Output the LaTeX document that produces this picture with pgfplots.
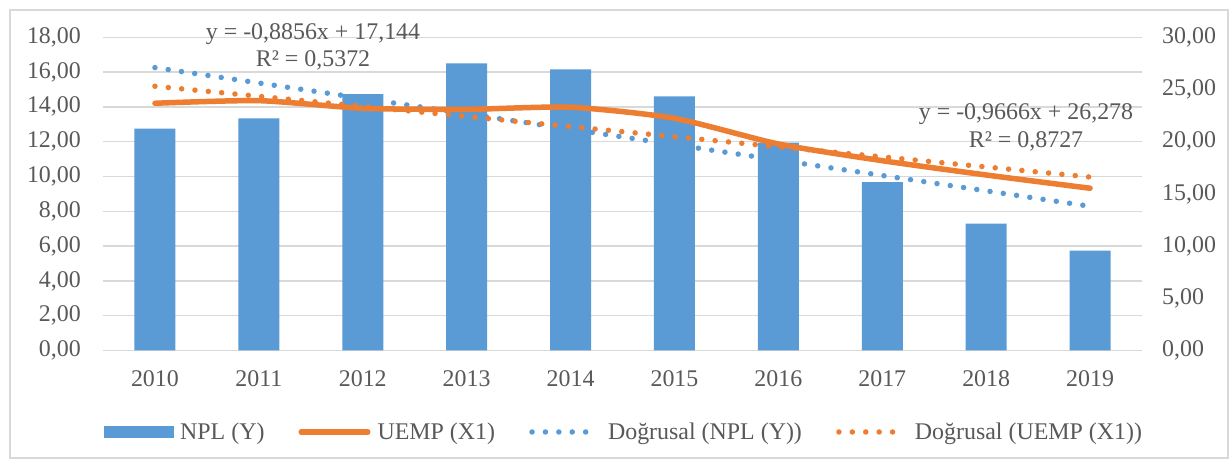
\documentclass[border=0pt]{standalone}
\usepackage{fontspec}
\setmainfont{Liberation Serif}
\usepackage{pgfplots}
\usepackage{pgfplotstable}
\pgfplotsset{compat=1.18}
\definecolor{npl}{HTML}{5B9BD5}
\definecolor{uemp}{HTML}{ED7D31}
\definecolor{txt}{HTML}{595959}
\definecolor{grd}{HTML}{D9D9D9}

\pgfplotstableread{
x npl uemp
1 12.75 23.68
2 13.34 23.93
3 14.74 23.20
4 16.50 23.10
5 16.16 23.30
6 14.61 22.24
7 11.95 19.78
8 9.67 18.18
9 7.29 16.81
10 5.74 15.54
}\data

\newcommand{\bigf}{\fontsize{24}{28}\selectfont}

\begin{document}
\begin{tikzpicture}[x=1bp,y=1bp]
\path[use as bounding box] (0,0) rectangle (1232,461);
\fill[white] (0,0) rectangle (1232,461);
\draw[grd, line width=1.5bp] (10,3) rectangle (1228,451);

\pgfplotsset{
 every axis/.append style={
  scale only axis, width=1039bp, height=313.2bp,
  at={(103bp,110.5bp)}, anchor=south west,
  xmin=0.5, xmax=10.5, ymin=0,
  tick style={draw=none}, major tick length=0pt,
  axis line style={draw=none},
  ticklabel style={font=\bigf, text=txt, inner sep=0pt},
  yticklabel={\pgfmathprintnumber[fixed,fixed zerofill,precision=2,use comma,assume math mode=true]{\tick}},
 }
}

\begin{axis}[
  ymax=18, ytick={0,2,...,18},
  ymajorgrids, grid style={grd, line width=1.5bp},
  xtick={1,2,3,4,5,6,7,8,9,10},
  xticklabels={2010,2011,2012,2013,2014,2015,2016,2017,2018,2019},
  xticklabel style={anchor=north, yshift=-20bp},
  yticklabel style={anchor=east, xshift=-22bp},
]
\addplot[ybar, bar width=41bp, fill=npl, draw=none] table[x=x,y=npl]{\data};
\addplot[npl, line width=5.5bp, line cap=round, dash pattern=on 0bp off 13.4bp]
  coordinates {(1,16.2584) (10,8.288)};
\end{axis}

\begin{axis}[
  ymax=30, ytick={0,5,...,30},
  axis y line*=right, axis x line=none, xtick=\empty,
  yticklabel style={anchor=west, xshift=20bp},
  legend columns=4,
  legend cell align=left,
  legend style={draw=none, fill=none, font=\bigf, text=txt,
    anchor=center, at={(0.5004,-0.2602)}, inner sep=0pt,
    nodes={inner sep=0pt},
    /tikz/every even column/.append style={column sep=34bp},
    /tikz/every odd column/.append style={column sep=7bp}},
]
\addlegendimage{legend image code/.code={\fill[npl] (0bp,-5.5bp) rectangle (69bp,5.5bp);}}
\addlegendentry{NPL (Y)}
\addlegendimage{legend image code/.code={\draw[uemp,line width=5.5bp,line cap=round] (2.75bp,0bp) -- (69.25bp,0bp);}}
\addlegendentry{UEMP (X1)}
\addlegendimage{legend image code/.code={\path[draw=none,fill=none] (0bp,0bp) rectangle (72bp,0.1bp);\draw[npl,line width=5.5bp,line cap=round,dash pattern=on 0bp off 13.4bp] (3bp,0bp) -- (58bp,0bp);}}
\addlegendentry{Doğrusal (NPL (Y))}
\addlegendimage{legend image code/.code={\path[draw=none,fill=none] (0bp,0bp) rectangle (72bp,0.1bp);\draw[uemp,line width=5.5bp,line cap=round,dash pattern=on 0bp off 13.4bp] (3bp,0bp) -- (58bp,0bp);}}
\addlegendentry{Doğrusal (UEMP (X1))}

\addplot[uemp, line width=5.5bp, line join=round, line cap=round, smooth, tension=0.4, forget plot]
  table[x=x,y=uemp]{\data};
\addplot[uemp, line width=5.5bp, line cap=round, dash pattern=on 0bp off 13.4bp, forget plot]
  coordinates {(1,25.3114) (10,16.612)};
\end{axis}

\node[anchor=base, text=txt, font=\bigf, inner sep=0pt] at (313,421) {y = -0,8856x + 17,144};
\node[anchor=base, text=txt, font=\bigf, inner sep=0pt] at (313,394.3) {R² = 0,5372};
\node[anchor=base, text=txt, font=\bigf, inner sep=0pt] at (1026,341) {y = -0,9666x + 26,278};
\node[anchor=base, text=txt, font=\bigf, inner sep=0pt] at (1026,313.3) {R² = 0,8727};
\end{tikzpicture}
\end{document}
